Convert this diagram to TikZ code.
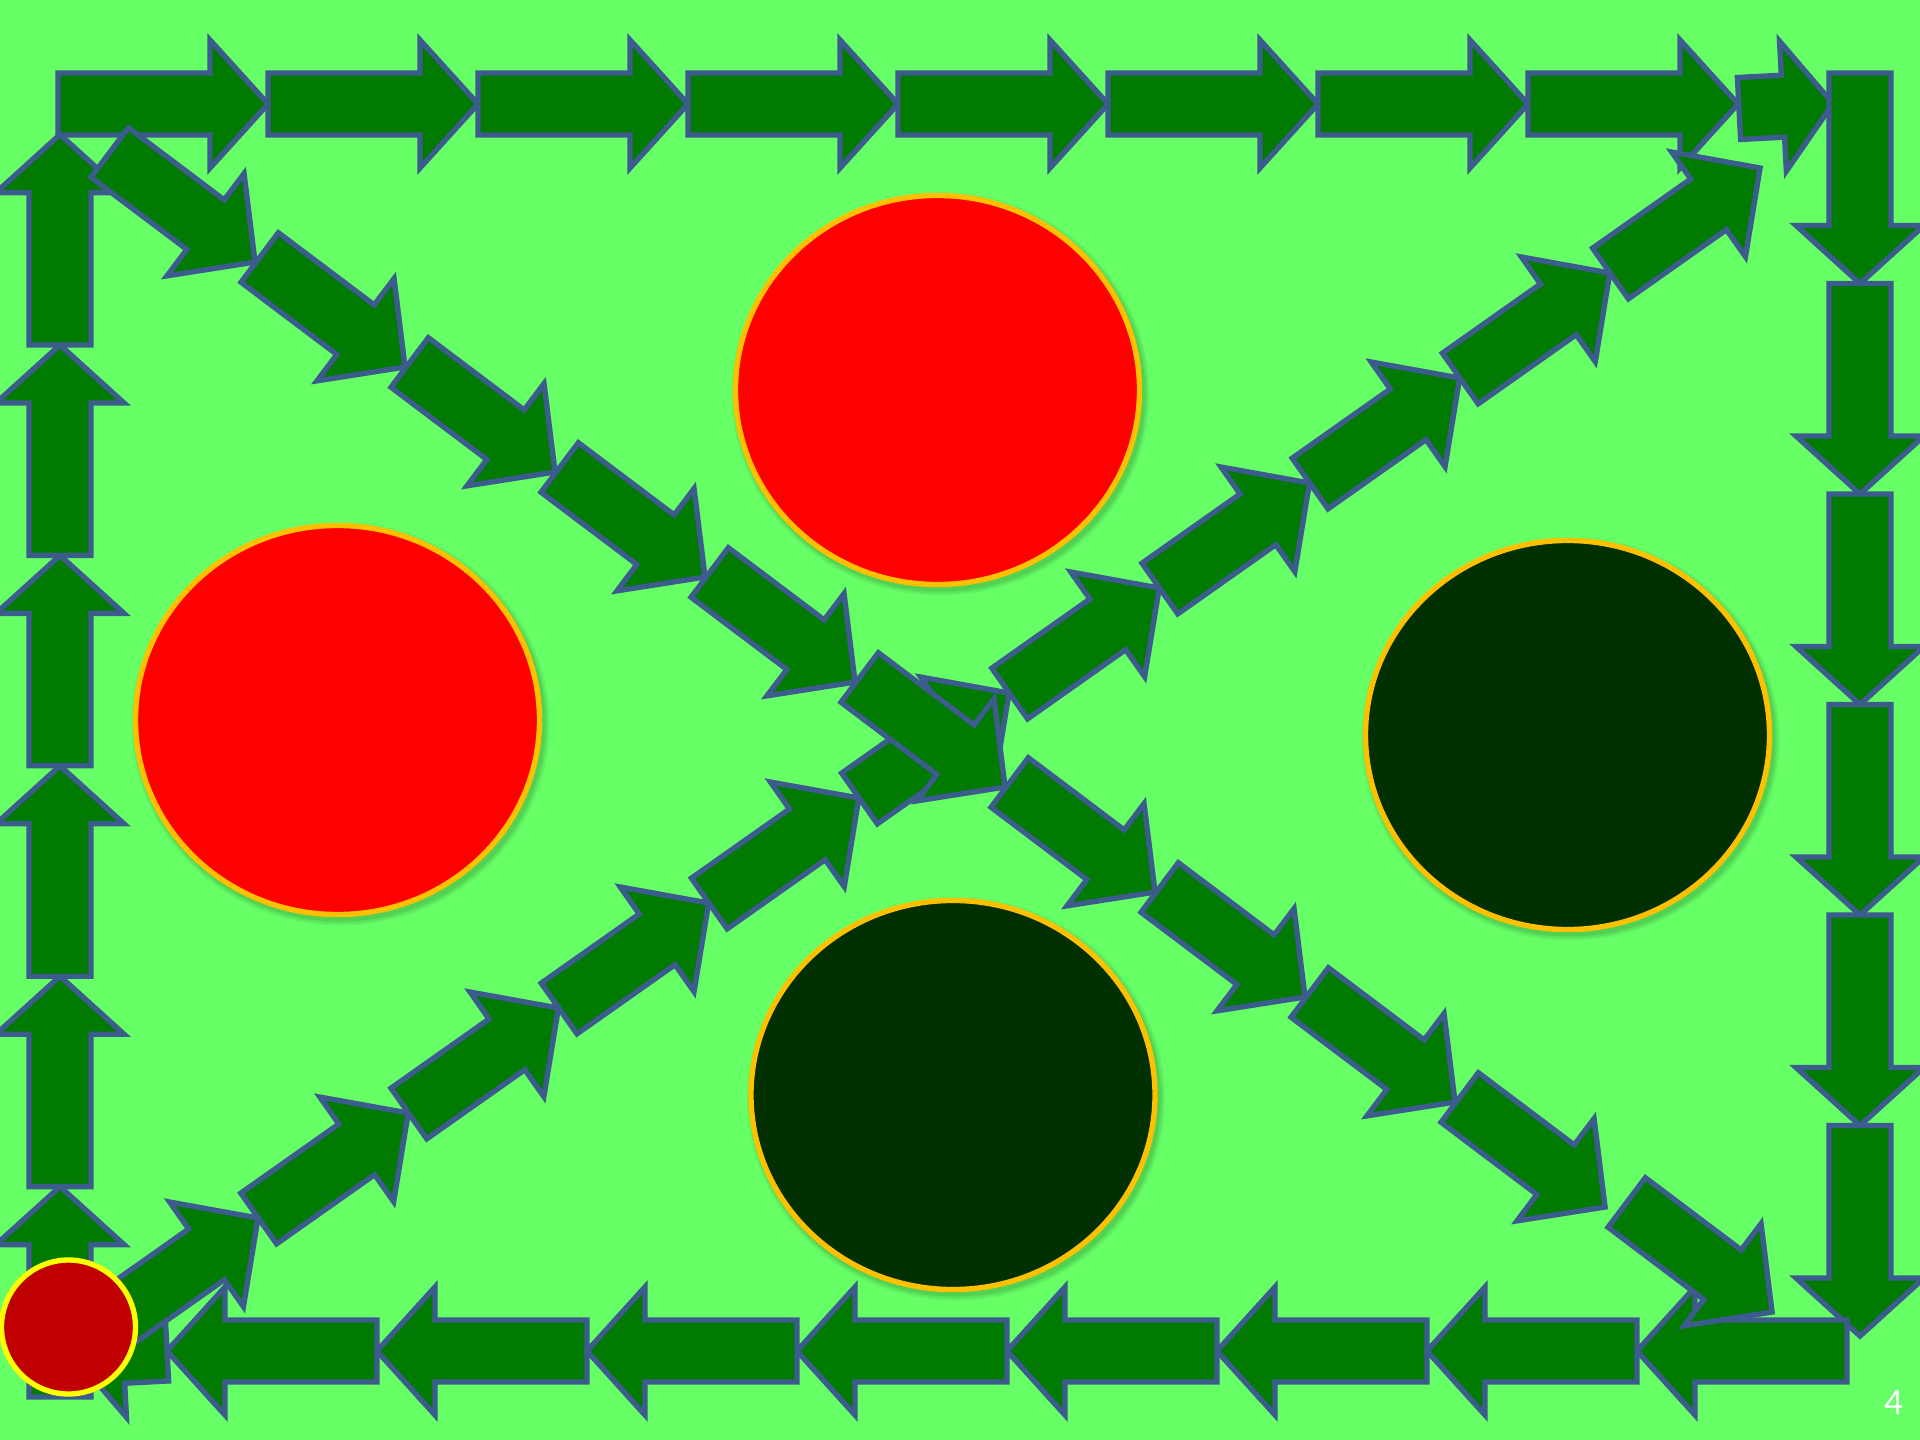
\documentclass[tikz,border=0pt]{standalone}
\usepackage{fontspec}
\newfontfamily\slidefont{Carlito}
\usetikzlibrary{shapes.geometric}
\definecolor{bggreen}{HTML}{66FF66}
\definecolor{arrowfill}{HTML}{007A00}
\definecolor{arrowline}{HTML}{3B5C8C}
\definecolor{ringorange}{HTML}{FFC000}
\definecolor{discred}{HTML}{FF0000}
\definecolor{discdark}{HTML}{003000}
\definecolor{smallred}{HTML}{C00000}
\definecolor{ringyellow}{HTML}{FFFF00}
\tikzset{
  arrowstyle/.style={fill=arrowfill, draw=arrowline, line width=2pt, line join=miter},
  pics/blockarrow/.style n args={3}{code={
    \path[arrowstyle] (0,-31) -- ({#1-#2},-31) -- ({#1-#2},{-#3}) -- (#1,0)
      -- ({#1-#2},#3) -- ({#1-#2},31) -- (0,31) -- cycle;
  }},
  disc/.style={ellipse, draw=ringorange, line width=2pt, minimum width=151.5pt,
    minimum height=145.9pt, inner sep=0pt},
}
\newcommand\discwithshadow[4]{%
  \foreach \s/\o in {7/0.05,5/0.06,3/0.08}{%
    \fill[black,opacity=\o] ({#2+3},{#3+4}) ellipse [x radius={202+\s}, y radius={194.5+\s}];}
  \node[disc, fill=#4] (#1) at (#2,#3) {};
}
\begin{document}
\begin{tikzpicture}[x=0.375pt,y=-0.375pt]
\useasboundingbox (0,0) rectangle (1920,1440);
\fill[bggreen] (0,0) rectangle (1920,1440);

% top row (right arrows)
\foreach \k in {0,...,7}
  \pic (top\k) at ({58+210*\k},104) {blockarrow={210}{58}{64}};
\pic[rotate=3] (topsmall) at (1739,108.5) {blockarrow={94}{50}{65}};

% right column (down arrows)
\foreach \k in {0,...,5}
  \pic[rotate=-90] (right\k) at (1860,{73+210.5*\k}) {blockarrow={210.5}{58}{64}};

% bottom row (left arrows)
\foreach \k in {0,...,7}
  \pic[rotate=180] (bottom\k) at ({1847-210*\k},1351) {blockarrow={210}{58}{64}};
\pic[rotate=183] (bottomsmall) at (167,1350) {blockarrow={94}{50}{65}};

% left column (up arrows)
\foreach \k in {0,...,5}
  \pic[rotate=90] (left\k) at (60,{1397-210.4*\k}) {blockarrow={210.4}{58}{64}};

% diagonal up-right
\foreach \k in {0,...,10}
  \pic[rotate=35.2] (ur\k) at ({108.5+150.2*\k},{1323.5-105*\k}) {blockarrow={183}{63}{64}};

% diagonal down-right
\foreach \k in {0,...,9}
  \pic[rotate=-37] (dr\k) at ({109.7+150*\k},{152.5+105*\k}) {blockarrow={182}{62}{64}};
\pic[rotate=-37] (drlast) at (1626.7,1202.5) {blockarrow={182}{62}{64}};

% big discs
\discwithshadow{redleft}{337.5}{720}{discred}
\discwithshadow{redtop}{937.5}{390}{discred}
\discwithshadow{darkright}{1567.5}{735}{discdark}
\discwithshadow{darkbottom}{953}{1095}{discdark}

% start disc
\node[circle, fill=smallred, draw=ringyellow, line width=2pt, minimum size=50.25pt,
  inner sep=0pt] (startdisc) at (68.5,1327) {};

% page number
\node[text=white, inner sep=0pt, font=\slidefont\fontsize{14}{16}\selectfont]
  (pagenum) at (1893.5,1402.5) {4};
\end{tikzpicture}
\end{document}
